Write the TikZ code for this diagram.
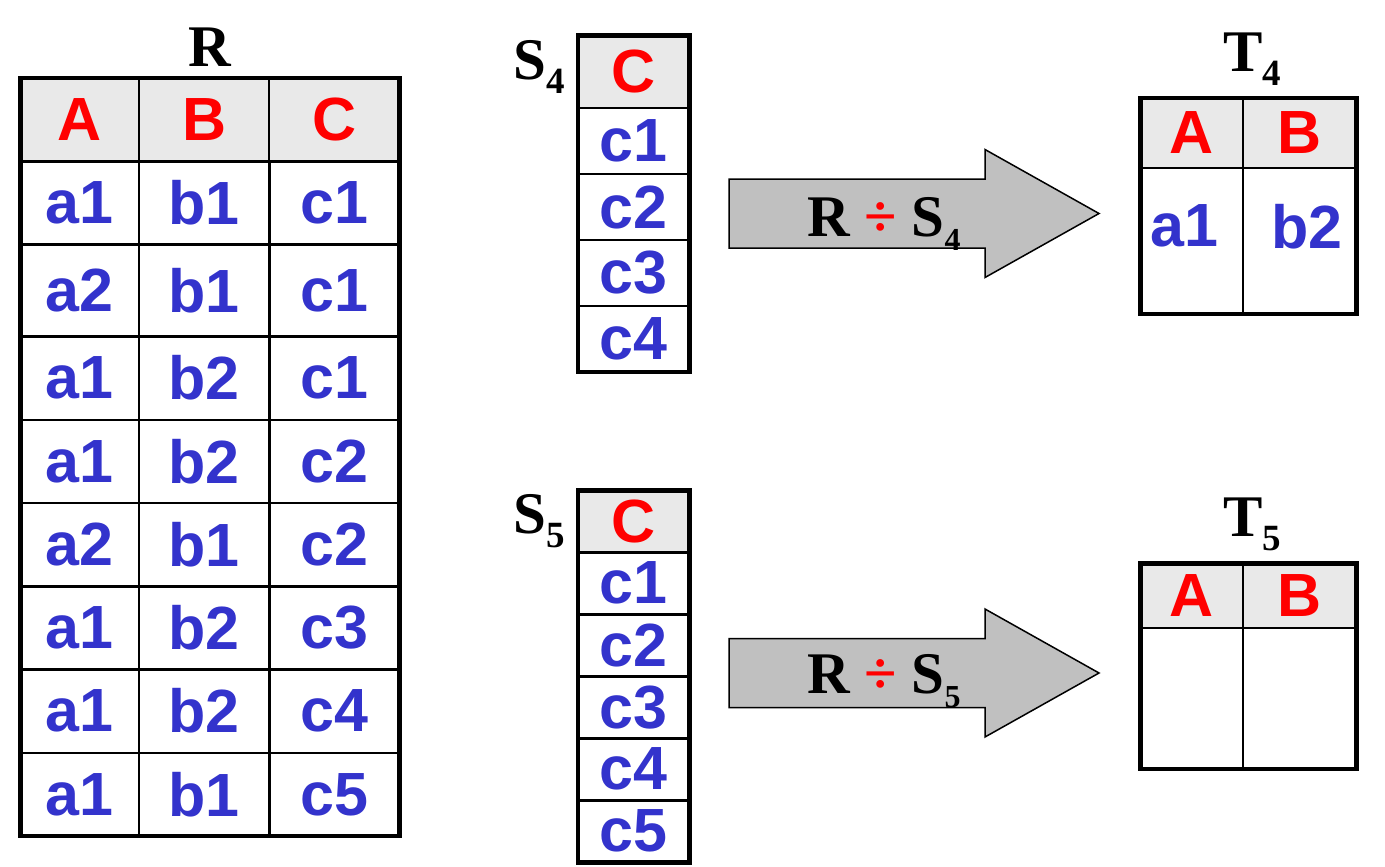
\documentclass[tikz,border=0pt]{standalone}
\usepackage{fontspec}
\setmainfont{Liberation Serif}
\setsansfont{Liberation Sans}
\usepackage{xcolor}
\usetikzlibrary{matrix, positioning}

\definecolor{hdrred}{HTML}{FF0000}
\definecolor{valblue}{HTML}{3333CC}
\definecolor{hdrgray}{HTML}{E9E9E9}
\definecolor{arrowgray}{HTML}{C0C0C0}

\newcommand{\cellfont}{\sffamily\bfseries\fontsize{61}{61}\selectfont}
\newcommand{\lblfont}{\rmfamily\bfseries\fontsize{59}{59}\selectfont}
\newcommand{\subidx}[2][37]{\raisebox{-14pt}{\fontsize{#1}{#1}\selectfont #2}}

\tikzset{
  cell/.style={draw, line width=2.5pt, inner sep=0pt, outer sep=0pt,
               anchor=center, font=\cellfont, text=valblue},
  hdr/.style={fill=hdrgray, text=hdrred},
  tbl/.style={matrix of nodes, nodes in empty cells,
              row sep=-2.5pt, column sep=-2.5pt,
              inner sep=0pt, outer sep=0pt,
              nodes={cell}, row 1/.style={nodes={hdr}}},
  frame/.style={line width=4.5pt},
  lbl/.style={inner sep=0pt, font=\lblfont},
  divarrow/.style={draw, line width=1.5pt, fill=arrowgray},
}

\begin{document}
\begin{tikzpicture}[x=1pt, y=-1pt]
\useasboundingbox (0,0) rectangle (1385,867);

% relation R
\matrix (R) [tbl, nodes={minimum height=83.25pt},
             row 3/.style={nodes={minimum height=92pt}},
             column 1/.style={nodes={minimum width=118.5pt}},
             column 2/.style={nodes={minimum width=130.3pt}},
             column 3/.style={nodes={minimum width=130.3pt}}]
  at (210,457)
{
A  & B  & C  \\
a1 & b1 & c1 \\
a2 & b1 & c1 \\
a1 & b2 & c1 \\
a1 & b2 & c2 \\
a2 & b1 & c2 \\
a1 & b2 & c3 \\
a1 & b2 & c4 \\
a1 & b1 & c5 \\
};
\draw[frame] (R-1-1.north west) rectangle (R-9-3.south east);
\node[lbl, above=10pt of R] (Rname) {R};

% divisors
\matrix (S4) [tbl, nodes={minimum width=111.5pt, minimum height=66pt},
              row 1/.append style={nodes={minimum height=72.5pt}}]
  at (633.75,203.75)
{
C \\ c1 \\ c2 \\ c3 \\ c4 \\
};
\draw[frame] (S4-1-1.north west) rectangle (S4-5-1.south east);
\node[lbl, left=13pt of S4-1-1, yshift=5pt] (S4name) {S\subidx{4}};

\matrix (S5) [tbl, nodes={minimum width=111.5pt, minimum height=62pt}]
  at (633.75,676.25)
{
C \\ c1 \\ c2 \\ c3 \\ c4 \\ c5 \\
};
\draw[frame] (S5-1-1.north west) rectangle (S5-6-1.south east);
\node[lbl, left=13pt of S5-1-1] (S5name) {S\subidx{5}};

% results
\matrix (T4) [tbl, column 1/.style={nodes={minimum width=102.5pt}},
              column 2/.style={nodes={minimum width=113.5pt}},
              row 1/.append style={nodes={minimum height=70pt}},
              row 2/.style={nodes={minimum height=146pt, text depth=30pt}}]
  at (1248.5,206)
{
A & B \\
a1\hspace*{14pt} & \hspace*{15pt}b2 \\
};
\draw[frame] (T4-1-1.north west) rectangle (T4-2-2.south east);
\node[lbl, above=11pt of T4, xshift=4pt] (T4name) {T\subidx{4}};

\matrix (T5) [tbl, column 1/.style={nodes={minimum width=102.5pt}},
              column 2/.style={nodes={minimum width=113.5pt}},
              row 1/.append style={nodes={minimum height=64.5pt}},
              row 2/.style={nodes={minimum height=141pt}}]
  at (1248.5,666.25)
{
A & B \\
  &   \\
};
\draw[frame] (T5-1-1.north west) rectangle (T5-2-2.south east);
\node[lbl, above=11pt of T5, xshift=4pt] (T5name) {T\subidx{5}};

% division arrows
\foreach \i/\y/\b in {4/213.5/236, 5/673/693} {
  \draw[divarrow] (729,\y-34.5) -- (985,\y-34.5) -- (985,\y-64) -- (1099,\y)
    -- (985,\y+64) -- (985,\y+34.5) -- (729,\y+34.5) -- cycle;
  \node[lbl, anchor=base] (div\i) at (884,\b)
    {R \textcolor{hdrred}{÷} S\subidx[32]{\i}};
}
\end{tikzpicture}
\end{document}
